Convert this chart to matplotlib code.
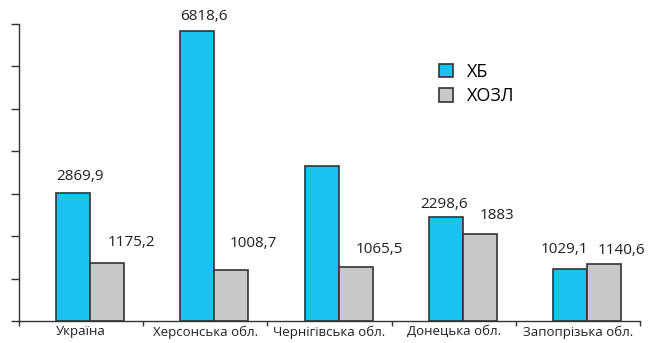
import numpy as np
import matplotlib.pyplot as plt
from matplotlib.patches import Patch

plt.rcParams['font.family'] = ['Open Sans', 'DejaVu Sans']

# Data
regions = ['Україна', 'Херсонська обл.', 'Чернігівська обл.',
           'Донецька обл.', 'Запопрізька обл.']
hb = [2869.9, 6818.6, 3550.0, 2298.6, 1029.1]
hozl = [1175.2, 1008.7, 1065.5, 1883.0, 1140.6]
hb_labels = ['2869,9', '6818,6', None, '2298,6', '1029,1']
hozl_labels = ['1175,2', '1008,7', '1065,5', '1883', '1140,6']

# label offsets from the bar top (px)
hb_offsets = [(7, 17), (7, 15), (0, 0), (-2, 12), (-5, 19)]
hozl_offsets = [(24, 20), (22, 26), (24, 18), (17, 18), (17, 14)]

BLUE = '#1bc2f0'
GREY = '#c8c9cb'
EDGE = '#333333'

# value axis floor sits a little below zero
y_floor, y_top = -240, 7000

fig = plt.figure(figsize=(6.5, 3.43), dpi=100)
ax = fig.add_axes([19 / 650, 22 / 343, 621 / 650, 297 / 343])

x = np.arange(len(regions))
w = 0.274
shift = 0.073
b1 = ax.bar(x + shift - w / 2, np.array(hb) - y_floor, w, bottom=y_floor,
            color=BLUE, edgecolor=EDGE, linewidth=1.2)
b2 = ax.bar(x + shift + w / 2, np.array(hozl) - y_floor, w, bottom=y_floor,
            color=GREY, edgecolor=EDGE, linewidth=1.2)

px = 0.72  # points per pixel at 100 dpi
for vals, labels, offs, dx0 in ((hb, hb_labels, hb_offsets, -w / 2),
                                (hozl, hozl_labels, hozl_offsets, w / 2)):
    for xi, v, lab, (dx, dy) in zip(x, vals, labels, offs):
        if lab is None:
            continue
        ax.annotate(lab, (xi + shift + dx0, v),
                    xytext=(dx * px, dy * px), textcoords='offset points',
                    ha='center', va='center', fontsize=11, color='#231f20')

ax.set_xlim(-0.5, len(regions) - 0.5)
ax.set_ylim(y_floor, y_top)
ax.set_yticks(np.linspace(y_floor, y_top, 8))
ax.set_yticklabels([])
ax.set_xticks(np.arange(-0.5, len(regions), 1.0))
ax.set_xticklabels([])
ax.set_xticks(x, minor=True)
ax.set_xticklabels(regions, minor=True, fontsize=9.5, color='#231f20')
ax.tick_params(axis='x', which='major', direction='out', length=3.5, width=1, color=EDGE)
ax.tick_params(axis='x', which='minor', length=0, pad=3)
ax.tick_params(axis='y', direction='out', length=5.8, width=1, color=EDGE)

for side in ('top', 'right'):
    ax.spines[side].set_visible(False)
for side in ('left', 'bottom'):
    ax.spines[side].set_color(EDGE)
    ax.spines[side].set_linewidth(1)

handles = [Patch(facecolor=BLUE, edgecolor=EDGE, linewidth=1.2, label='ХБ'),
           Patch(facecolor=GREY, edgecolor=EDGE, linewidth=1.2, label='ХОЗЛ')]
fig.legend(handles=handles, loc='upper left', bbox_to_anchor=(430 / 650, 1 - 54 / 343),
           frameon=False, fontsize=13, handlelength=0.75, handleheight=0.75,
           handletextpad=0.8, labelspacing=0.35, borderpad=0)

fig.savefig('out.png', dpi=100)
